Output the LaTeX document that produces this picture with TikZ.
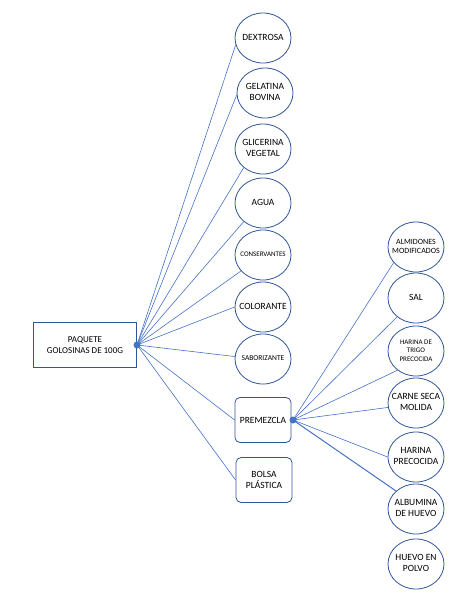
\documentclass[tikz,border=0pt]{standalone}
\usepackage{fontspec}
\setmainfont{Carlito}
\usepackage{tikz}
\usetikzlibrary{shapes,arrows,positioning,calc}

\definecolor{lineblue}{HTML}{4472C4}
\definecolor{edgeblue}{HTML}{2F5597}

% text that does not widen the ellipse
\newcommand{\inlbl}[1]{\makebox[0pt]{\begin{tabular}{@{}c@{}}#1\end{tabular}}}

\begin{document}
\begin{tikzpicture}[x=1pt,y=-1pt,
    ingr/.style={draw=edgeblue,thick,ellipse,minimum width=56pt,minimum height=50pt,
      inner sep=0pt,align=center,font=\fontsize{9.5}{11}\selectfont},
    small/.style={font=\fontsize{7}{8.5}\selectfont},
    pack/.style={draw=edgeblue,thick,rectangle,minimum width=103pt,minimum height=45pt,
      align=center,font=\fontsize{9}{11}\selectfont},
    part/.style={draw=edgeblue,thick,rectangle,rounded corners=5pt,minimum width=56pt,
      minimum height=45pt,align=center,font=\fontsize{9.5}{11}\selectfont},
    hub/.style={fill=lineblue,circle,inner sep=0pt,minimum size=7pt},
    link/.style={draw=lineblue,line width=0.6pt}]
      \useasboundingbox (0,0) rectangle (462,600);

      \coordinate (p) at (85,345);
      \coordinate (m) at (263,420);

      \node[pack] (pq) at (p) {PAQUETE\\GOLOSINAS DE 100G};
      \node[hub] (pqd) at (137,345) {};

      \node[ingr] (dex) at (263,38) {\inlbl{DEXTROSA}};
      \node[ingr] (gel) at (265,93) {\inlbl{GELATINA\\BOVINA}};
      \node[ingr] (gli) at (263,149) {\inlbl{GLICERINA\\VEGETAL}};
      \node[ingr] (agu) at (263,203) {\inlbl{AGUA}};
      \node[ingr,small] (con) at (263,255) {\inlbl{CONSERVANTES}};
      \node[ingr] (col) at (263,307) {\inlbl{COLORANTE}};
      \node[ingr,font=\fontsize{7.5}{9}\selectfont] (sab) at (263,359) {\inlbl{SABORIZANTE}};
      \node[part] (pre) at (m) {PREMEZCLA};
      \node[part] (bol) at (264,480) {BOLSA\\PL\'ASTICA};

      \draw[link] (pqd.center) -- (dex.194);
      \draw[link] (pqd.center) -- (gel.184);
      \draw[link] (pqd.center) -- (gli.224);
      \draw[link] (pqd.center) -- (agu.224);
      \draw[link] (pqd.center) -- (con.216);
      \draw[link] (pqd.center) -- (col.west);
      \draw[link] (pqd.center) -- (sab.175);
      \draw[link] (pqd.center) -- (pre.west);
      \draw[link] (pqd.center) -- (bol.west);

      \node[hub] (pred) at (293,420) {};

      \node[ingr,font=\fontsize{8}{9.5}\selectfont] (alm) at (416,247) {\inlbl{ALMIDONES\\MODIFICADOS}};
      \node[ingr] (sal) at (416,298) {\inlbl{SAL}};
      \node[ingr,small] (hat) at (416,351) {\inlbl{HARINA DE\\TRIGO\\PRECOCIDA}};
      \node[ingr] (car) at (416,403) {\inlbl{CARNE SECA\\MOLIDA}};
      \node[ingr] (hap) at (416,457) {\inlbl{HARINA\\PRECOCIDA}};
      \node[ingr] (alb) at (416,509) {\inlbl{ALBUMINA\\DE HUEVO}};
      \node[ingr] (hue) at (416,564) {\inlbl{HUEVO EN\\POLVO}};

      \draw[link] (pred.center) -- (alm.215);
      \draw[link] (pred.center) -- (sal.225);
      \draw[link] (pred.center) -- (hat.226);
      \draw[link] (pred.center) -- (car.189);
      \draw[link] (pred.center) -- (hap.west);
      \draw[link,line width=1pt] (pred.center) -- (alb.138);

    \end{tikzpicture}
\end{document}
